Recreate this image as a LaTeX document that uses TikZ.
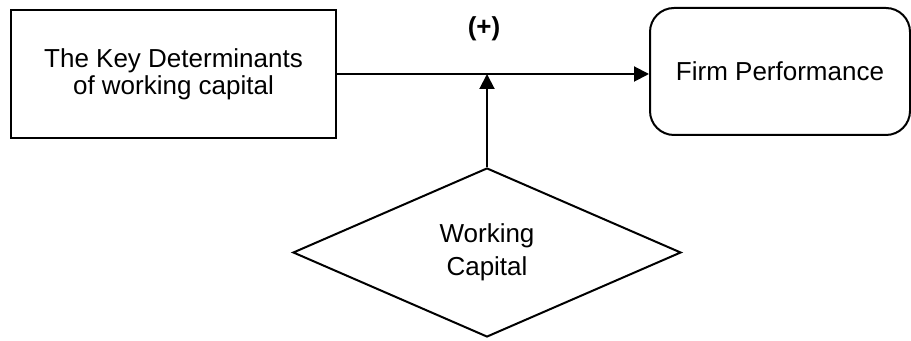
\documentclass[tikz,border=0pt]{standalone}
\usepackage{fontspec}
\setmainfont{Liberation Sans}
\usetikzlibrary{arrows.meta,positioning,shapes.geometric}

\begin{document}
\begin{tikzpicture}[x=0.5pt, y=-0.5pt,
            line width=1pt,
            >={Triangle[length=7.5pt, width=7.5pt]}, % filled arrow heads
            box/.style={draw, align=center, inner sep=0pt, font=\fontsize{13}{13.5}\selectfont}, % shared look of the three shapes
        ]
        \useasboundingbox (0,0) rectangle (911,341);
        \node[box, minimum width=162.5pt, minimum height=64pt] (det) at (173.5,74) {The Key Determinants\\of working capital};
        \node[box, rounded corners=12pt, minimum width=130pt, minimum height=63.5pt] (perf) at (780,71.5) {Firm Performance};
        \node[box, diamond, aspect=2.3, minimum width=194pt, minimum height=84.5pt,
            font=\fontsize{13}{16.5}\selectfont] (wc) at (487,252.5) {Working\\Capital};
        \node[font=\fontsize{13}{13.5}\selectfont\bfseries] (sign) at (484,29) {(+)};
        \draw[->] (det) -- (det -| perf.west);
        \draw[->] (wc) -- (wc |- det);
    \end{tikzpicture}
\end{document}
